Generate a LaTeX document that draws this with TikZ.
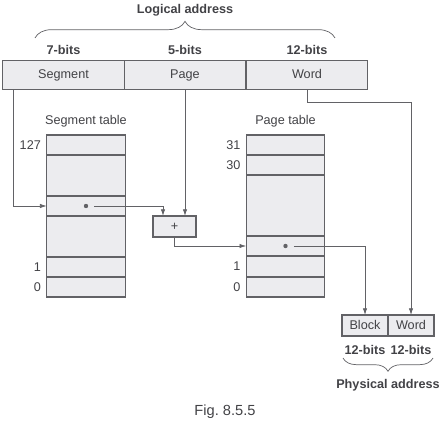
\documentclass[tikz,border=0pt]{standalone}
\usepackage{fontspec}
\setmainfont{Liberation Sans}
\usepackage{tikz}
\usetikzlibrary{arrows.meta,calc,decorations.pathreplacing,positioning}
\definecolor{linegrey}{RGB}{98,98,102}
\definecolor{cellgrey}{RGB}{236,236,239}
\definecolor{textgrey}{RGB}{66,66,70}
\newcommand{\figfont}{\fontsize{10.8}{13}\selectfont}
\tikzset{
  field/.style={draw=linegrey,fill=cellgrey,line width=0.9pt,minimum height=0.87cm,
    minimum width=3.65cm,inner sep=0pt,outer sep=0pt,text=textgrey,font=\figfont,
    text height=1.6ex,text depth=0.4ex},
  tablerow/.style={draw=linegrey,fill=cellgrey,line width=0.9pt,minimum width=2.36cm,
    inner sep=0pt,outer sep=0pt},
  smallbox/.style={draw=linegrey,fill=cellgrey,line width=0.9pt,minimum height=0.63cm,
    minimum width=1.38cm,inner sep=0pt,outer sep=0pt,text=textgrey,font=\figfont,
    text height=1.6ex,text depth=0.4ex},
  flow/.style={-{Latex[length=2mm,width=1.3mm]},line width=0.6pt,draw=linegrey},
  smalllabel/.style={text=textgrey,align=center,font=\figfont},
  bitslabel/.style={text=textgrey,font=\figfont\bfseries},
  entrydot/.style={circle,fill=linegrey,inner sep=0pt,minimum size=1.3mm},
  bracket/.style={decorate,decoration={brace,amplitude=#1},draw=linegrey,line width=0.6pt}
}

\begin{document}
\begin{tikzpicture}[x=0.03cm,y=-0.03cm,node distance=1mm]
  \useasboundingbox (0,0) rectangle (443,428);
  \node[field] (seg) at (63.5,75) {Segment};
  \node[field] (page) at (185,75) {Page};
  \node[field] (word) at (307,75) {Word};
  \node[bitslabel,above=0.6mm of seg] {7-bits};
  \node[bitslabel,above=0.6mm of page] {5-bits};
  \node[bitslabel,above=0.6mm of word] {12-bits};
  \draw[bracket=0.5cm] (35,38) -- (335,38);
  \node[bitslabel] (logaddr) at (185,10) {Logical address};

  \foreach \name/\y/\h in {s127/145/20,sa/175.5/41,srow/206/20,sb/236.5/41,s1/267/20,s0/287/20}
    \node[tablerow,minimum height=\h*0.3mm] (\name) at (86,\y) {};
  \foreach \name/\y/\h in {p31/145/20,p30/165/20,pa/205.5/61,prow/246/20,p1/266.5/21,p0/287/20}
    \node[tablerow,minimum height=\h*0.3mm] (\name) at (285.5,\y) {};
  \node[smalllabel,above=1mm of s127] {Segment table};
  \node[smalllabel,above=1mm of p31] {Page table};
  \node[smalllabel,left=0.5mm of s127] {127};
  \node[smalllabel,left=0.5mm of s1] {1};
  \node[smalllabel,left=0.5mm of s0] {0};
  \node[smalllabel,left=0.5mm of p31] {31};
  \node[smalllabel,left=0.5mm of p30] {30};
  \node[smalllabel,left=0.5mm of p1] {1};
  \node[smalllabel,left=0.5mm of p0] {0};
  \node[entrydot] (sdot) at (srow.center) {};
  \node[entrydot] (pdot) at (prow.center) {};

  \node[smallbox,minimum width=1.29cm] (plus) at (174.5,226.5) {+};
  \node[smallbox] (pblock) at (365,325.5) {Block};
  \node[smallbox] (pword) at (411,325.5) {Word};
  \node[bitslabel,below=1.5mm of pblock] {12-bits};
  \node[bitslabel,below=1.5mm of pword] {12-bits};
  \draw[bracket=0.4cm] (433,358) -- (343,358);
  \node[bitslabel] (physaddr) at (388,385) {Physical address};

  \draw[flow] ($(seg.south west)+(11,0)$) |- (srow.west);
  \draw[flow] (page.south) -- (plus.north -| page.south);
  \draw[flow] ($(sdot.east)+(6,0)$) -| ($(plus.north west)+(10,0)$);
  \draw[flow] (plus.south) |- (prow.west);
  \draw[flow] ($(pdot.east)+(6,0)$) -| (pblock.north);
  \draw[flow] (word.south) -- ++(0,13) -| (pword.north);

  \node[smalllabel,font=\fontsize{12.5}{15}\selectfont] (caption) at (225,412) {Fig.\ 8.5.5};
\end{tikzpicture}
\end{document}
